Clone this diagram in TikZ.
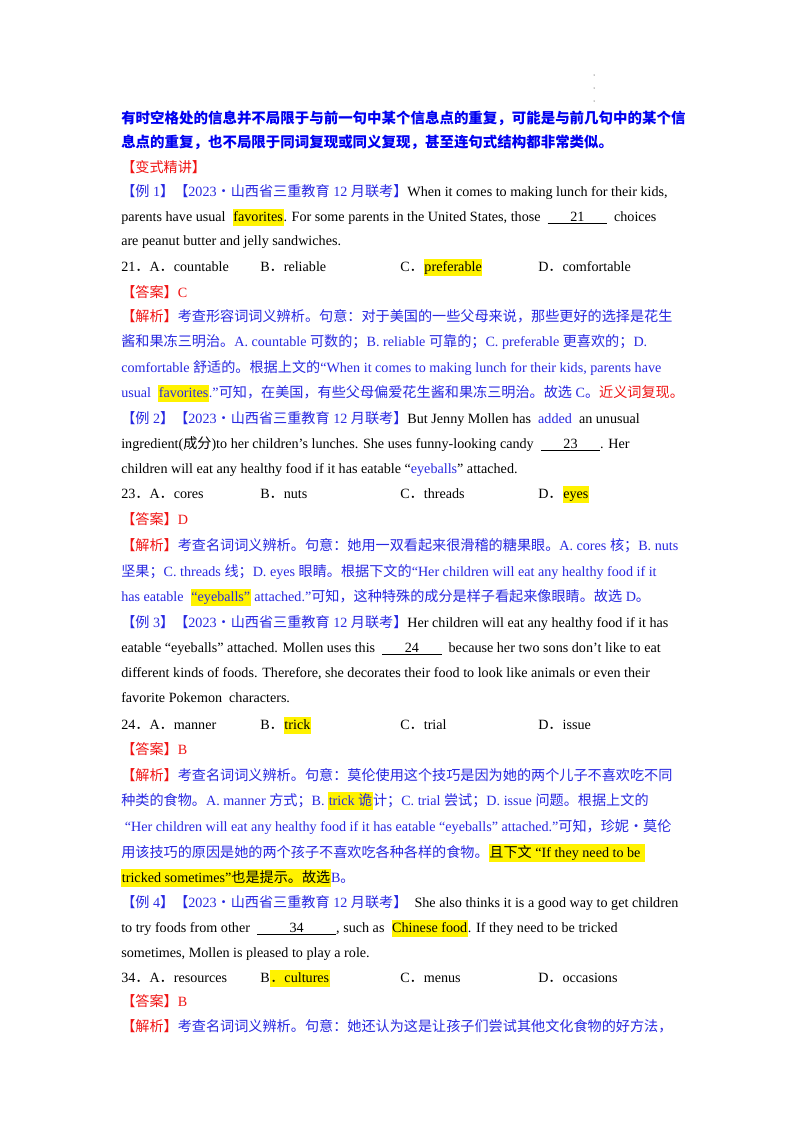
\documentclass[tikz,border=0pt]{standalone}
\usepackage{fontspec}
\setmainfont{Liberation Serif}
\newfontfamily\cjk{Noto Sans CJK SC}
\newcommand\z[1]{{\cjk #1}}
\newcommand\hl[1]{{\setlength{\fboxsep}{0.5pt}\colorbox{yellow}{\strut #1}}}
\newcommand\blank[1]{\underline{\hspace{1.6em}#1\hspace{1.6em}}}
\definecolor{hb}{RGB}{0,0,240}
\definecolor{eb}{RGB}{40,40,225}
\definecolor{rd}{RGB}{240,20,20}
\newcommand\R[1]{\textcolor{rd}{#1}}
\newcommand\B[1]{\textcolor{eb}{#1}}
\newcommand\lh[1]{\z{【例} #1\z{】【}2023\z{・山西省三重教育} 12 \z{月联考】}}
\begin{document}
\begin{tikzpicture}[x=0.75pt,y=-0.75pt,
  ln/.style={anchor=base west,inner sep=0pt,font=\fontsize{10.6}{12}\selectfont}]
\useasboundingbox[fill=white] (0,0) rectangle (800,1132);
\foreach \yy in {75,88,101} \fill (594,\yy) circle (0.5);
\node[ln,font=\fontsize{10.85}{12}\selectfont\bfseries,text=hb] (l1) at (121,123) {\z{有时空格处的信息并不局限于与前一句中某个信息点的重复，可能是与前几句中的某个信}};
\node[ln,font=\fontsize{10.85}{12}\selectfont\bfseries,text=hb] (l2) at (121,147) {\z{息点的重复，也不局限于同词复现或同义复现，甚至连句式结构都非常类似。}};
\node[ln] (l3) at (121,172) {\R{\z{【变式精讲】}}};
\node[ln] (l4) at (121,196) {\B{\lh{1}}When it comes to making lunch for their kids,};
\node[ln] (l5) at (121,221) {parents have usual \ \hl{favorites}. For some parents in the United States, those \ \blank{21} \ choices};
\node[ln] (l6) at (121,245) {are peanut butter and jelly sandwiches.};
\node[ln] (o1a) at (121,271) {21\z{．}A\z{．}countable};
\node[ln] (o1b) at (260,271) {B\z{．}reliable};
\node[ln] (o1c) at (400,271) {C\z{．}\hl{preferable}};
\node[ln] (o1d) at (538,271) {D\z{．}comfortable};
\node[ln] (l8) at (121,297) {\R{\z{【答案】}C}};
\node[ln] (l9) at (121,321) {\R{\z{【解析】}}\B{\z{考查形容词词义辨析。句意：对于美国的一些父母来说，那些更好的选择是花生}}};
\node[ln] (l10) at (121,346) {\B{\z{酱和果冻三明治。}A. countable \z{可数的；}B. reliable \z{可靠的；}C. preferable \z{更喜欢的；}D.}};
\node[ln] (l11) at (121,372) {\B{comfortable \z{舒适的。根据上文的}“When it comes to making lunch for their kids, parents have}};
\node[ln] (l12) at (121,397) {\B{usual \ \hl{favorites}.”\z{可知，在美国，有些父母偏爱花生酱和果冻三明治。故选} C\z{。}}\R{\z{近义词复现。}}};
\node[ln] (l13) at (121,423) {\B{\lh{2}}But Jenny Mollen has \ \B{added} \ an unusual};
\node[ln] (l14) at (121,448) {ingredient(\z{成分})to her children’s lunches. She uses funny-looking candy \ \blank{23}. Her};
\node[ln] (l15) at (121,473) {children will eat any healthy food if it has eatable “\B{eyeballs}” attached.};
\node[ln] (o2a) at (121,498) {23\z{．}A\z{．}cores};
\node[ln] (o2b) at (260,498) {B\z{．}nuts};
\node[ln] (o2c) at (400,498) {C\z{．}threads};
\node[ln] (o2d) at (538,498) {D\z{．}\hl{eyes}};
\node[ln] (l17) at (121,524) {\R{\z{【答案】}D}};
\node[ln] (l18) at (121,550) {\R{\z{【解析】}}\B{\z{考查名词词义辨析。句意：她用一双看起来很滑稽的糖果眼。}A. cores \z{核；}B. nuts}};
\node[ln] (l19) at (121,576) {\B{\z{坚果；}C. threads \z{线；}D. eyes \z{眼睛。根据下文的}“Her children will eat any healthy food if it}};
\node[ln] (l20) at (121,601) {\B{has eatable \ \hl{“eyeballs”} attached.”\z{可知，这种特殊的成分是样子看起来像眼睛。故选} D\z{。}}};
\node[ln] (l21) at (121,627) {\B{\lh{3}}Her children will eat any healthy food if it has};
\node[ln] (l22) at (121,652) {eatable “eyeballs” attached. Mollen uses this \ \blank{24} \ because her two sons don’t like to eat};
\node[ln] (l23) at (121,677) {different kinds of foods. Therefore, she decorates their food to look like animals or even their};
\node[ln] (l24) at (121,702) {favorite Pokemon \ characters.};
\node[ln] (o3a) at (121,729) {24\z{．}A\z{．}manner};
\node[ln] (o3b) at (260,729) {B\z{．}\hl{trick}};
\node[ln] (o3c) at (400,729) {C\z{．}trial};
\node[ln] (o3d) at (538,729) {D\z{．}issue};
\node[ln] (l26) at (121,754) {\R{\z{【答案】}B}};
\node[ln] (l27) at (121,780) {\R{\z{【解析】}}\B{\z{考查名词词义辨析。句意：莫伦使用这个技巧是因为她的两个儿子不喜欢吃不同}}};
\node[ln] (l28) at (121,805) {\B{\z{种类的食物。}A. manner \z{方式；}B. \hl{trick \z{诡}}\z{计；}C. trial \z{尝试；}D. issue \z{问题。根据上文的}}};
\node[ln] (l29) at (121,831) {\B{\ “Her children will eat any healthy food if it has eatable “eyeballs” attached.”\z{可知，珍妮·莫伦}}};
\node[ln] (l30) at (121,857) {\B{\z{用该技巧的原因是她的两个孩子不喜欢吃各种各样的食物。}}\hl{\z{且下文} “If they need to be }};
\node[ln] (l31) at (121,882) {\hl{tricked sometimes”\z{也是提示。故选}}\B{B\z{。}}};
\node[ln] (l32) at (121,907) {\B{\lh{4}} \ She also thinks it is a good way to get children};
\node[ln] (l33) at (121,932) {to try foods from other \ \underline{\hspace{2.3em}34\hspace{2.3em}}, such as \ \hl{Chinese food}. If they need to be tricked};
\node[ln] (l34) at (121,957) {sometimes, Mollen is pleased to play a role.};
\node[ln] (o4a) at (121,982) {34\z{．}A\z{．}resources};
\node[ln] (o4b) at (260,982) {B\hl{\z{．}cultures}};
\node[ln] (o4c) at (400,982) {C\z{．}menus};
\node[ln] (o4d) at (538,982) {D\z{．}occasions};
\node[ln] (l36) at (121,1006) {\R{\z{【答案】}B}};
\node[ln] (l37) at (121,1031) {\R{\z{【解析】}}\B{\z{考查名词词义辨析。句意：她还认为这是让孩子们尝试其他文化食物的好方法，}}};
\end{tikzpicture}
\end{document}
